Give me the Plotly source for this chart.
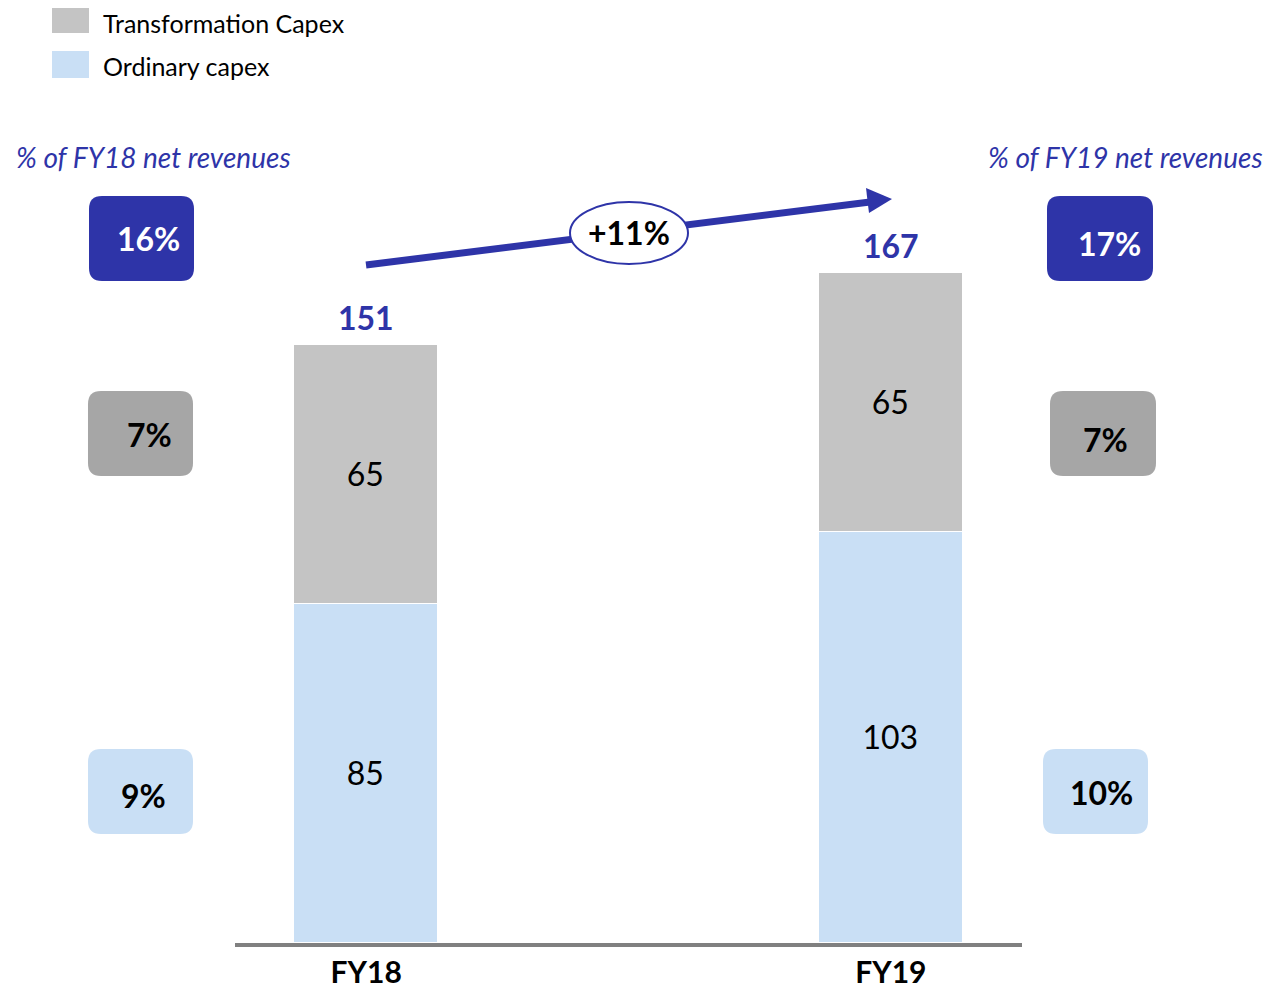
import plotly.graph_objects as go

# ---- data ----
categories = ["FY18", "FY19"]
ordinary_capex = [85, 103]
transformation_capex = [65, 65]
totals = [151, 167]
growth_label = "+11%"
pct_total = ["16%", "17%"]
pct_transformation = ["7%", "7%"]
pct_ordinary = ["9%", "10%"]
header_labels = ["% of FY18 net revenues", "% of FY19 net revenues"]

# ---- style ----
OFF = 8                      # default page margin around the figure
FW, FH = 1273 - 2 * OFF, 995 - 2 * OFF
FONT = "Lato"
DARK_BLUE = "#2E34A8"
GREY_BAR = "#C4C4C4"
LIGHT_BLUE = "#C9DFF5"
GREY_BOX = "#A6A6A6"
AXIS_GREY = "#808080"


def px(x):
    """screen pixel x -> paper fraction"""
    return (x - OFF) / FW


def py(y):
    """screen pixel y -> paper fraction"""
    return 1 - (y - OFF) / FH


xpos = list(range(len(categories)))

fig = go.Figure()
fig.add_trace(go.Bar(
    x=xpos, y=ordinary_capex, name="Ordinary capex",
    marker=dict(color=LIGHT_BLUE, line=dict(color="white", width=1.5)),
    width=0.274, text=[str(v) for v in ordinary_capex],
    textposition="inside", insidetextanchor="middle",
    textfont=dict(family=FONT, size=32, color="black"),
    hoverinfo="skip",
))
fig.add_trace(go.Bar(
    x=xpos, y=transformation_capex, name="Transformation Capex",
    marker=dict(color=GREY_BAR, line=dict(color="white", width=1.5)),
    width=0.274, text=[str(v) for v in transformation_capex],
    textposition="inside", insidetextanchor="middle",
    textfont=dict(family=FONT, size=32, color="black"),
    hoverinfo="skip",
))

shapes = []
annotations = []

# totals above bars
for i, t in enumerate(totals):
    stack_top = ordinary_capex[i] + transformation_capex[i]
    annotations.append(dict(
        x=xpos[i], y=stack_top, xref="x", yref="y", text=f"<b>{t}</b>",
        showarrow=False, xanchor="center", yanchor="bottom", yshift=6,
        font=dict(family=FONT, size=32, color=DARK_BLUE)))

# legend (custom)
shapes.append(dict(type="rect", xref="paper", yref="paper",
                   x0=px(52), x1=px(89), y0=py(8), y1=py(33),
                   fillcolor=GREY_BAR, line=dict(width=0)))
shapes.append(dict(type="rect", xref="paper", yref="paper",
                   x0=px(52), x1=px(89), y0=py(51), y1=py(78),
                   fillcolor=LIGHT_BLUE, line=dict(width=0)))
annotations.append(dict(x=px(101), y=py(23), xref="paper", yref="paper",
                        text="Transformation Capex", showarrow=False,
                        xanchor="left", yanchor="middle",
                        font=dict(family=FONT, size=25, color="black")))
annotations.append(dict(x=px(101), y=py(66), xref="paper", yref="paper",
                        text="Ordinary capex", showarrow=False,
                        xanchor="left", yanchor="middle",
                        font=dict(family=FONT, size=25, color="black")))

# headers
annotations.append(dict(x=px(14), y=py(157), xref="paper", yref="paper",
                        text=f"<i>{header_labels[0]}</i>", showarrow=False,
                        xanchor="left", yanchor="middle",
                        font=dict(family=FONT, size=28, color=DARK_BLUE)))
annotations.append(dict(x=px(1265), y=py(157), xref="paper", yref="paper",
                        text=f"<i>{header_labels[1]}</i>", showarrow=False,
                        xanchor="right", yanchor="middle",
                        font=dict(family=FONT, size=28, color=DARK_BLUE)))


def rrect(x0, y0, x1, y1, r, fill):
    pts = [
        ("M", [(x0 + r, y0)]), ("L", [(x1 - r, y0)]),
        ("Q", [(x1, y0), (x1, y0 + r)]), ("L", [(x1, y1 - r)]),
        ("Q", [(x1, y1), (x1 - r, y1)]), ("L", [(x0 + r, y1)]),
        ("Q", [(x0, y1), (x0, y1 - r)]), ("L", [(x0, y0 + r)]),
        ("Q", [(x0, y0), (x0 + r, y0)]),
    ]
    path = " ".join(
        cmd + " " + " ".join(f"{px(a):.5f},{py(b):.5f}" for a, b in p)
        for cmd, p in pts) + " Z"
    return dict(type="path", xref="paper", yref="paper", path=path,
                fillcolor=fill, line=dict(width=0), layer="below")


# percentage boxes: (x0,y0,x1,y1), fill, text, text centre, text colour
boxes = [
    ((89, 196, 194, 281), DARK_BLUE, pct_total[0], (148, 238), "white"),
    ((88, 391, 193, 476), GREY_BOX, pct_transformation[0], (149, 434), "black"),
    ((88, 749, 193, 834), LIGHT_BLUE, pct_ordinary[0], (143, 795), "black"),
    ((1047, 196, 1153, 281), DARK_BLUE, pct_total[1], (1109, 243), "white"),
    ((1050, 391, 1156, 476), GREY_BOX, pct_transformation[1], (1105, 440), "black"),
    ((1043, 749, 1148, 834), LIGHT_BLUE, pct_ordinary[1], (1101, 792), "black"),
]
for (x0, y0, x1, y1), fill, txt, (tx, ty), tc in boxes:
    shapes.append(rrect(x0, y0, x1, y1, 13, fill))
    annotations.append(dict(x=px(tx), y=py(ty), xref="paper", yref="paper",
                            text=f"<b>{txt}</b>", showarrow=False,
                            xanchor="center", yanchor="middle",
                            font=dict(family=FONT, size=32, color=tc)))

# growth arrow
shapes.append(dict(type="line", xref="paper", yref="paper",
                   x0=px(366), y0=py(265), x1=px(870), y1=py(202),
                   line=dict(color=DARK_BLUE, width=7), layer="above"))
shapes.append(dict(type="path", xref="paper", yref="paper",
                   path=(f"M {px(892):.5f},{py(199):.5f} "
                         f"L {px(866):.5f},{py(188):.5f} "
                         f"L {px(869):.5f},{py(213):.5f} Z"),
                   fillcolor=DARK_BLUE, line=dict(width=0), layer="above"))
shapes.append(dict(type="circle", xref="paper", yref="paper",
                   x0=px(570), x1=px(688), y0=py(264), y1=py(202),
                   fillcolor="white", line=dict(color=DARK_BLUE, width=2),
                   layer="above"))
annotations.append(dict(x=px(629), y=py(233), xref="paper", yref="paper",
                        text=f"<b>{growth_label}</b>", showarrow=False,
                        xanchor="center", yanchor="middle",
                        font=dict(family=FONT, size=32, color="black")))

SCALE = 3.99                    # px per unit
ymax = (943 - OFF) / SCALE

fig.update_layout(
    width=FW, height=FH, barmode="stack", bargap=0,
    margin=dict(l=0, r=0, t=0, b=0, autoexpand=False),
    plot_bgcolor="white", paper_bgcolor="white",
    showlegend=False,
    font=dict(family=FONT),
    xaxis=dict(domain=[px(235), px(1022)], range=[-0.25, 1.25],
               tickvals=xpos, ticktext=[f"<b>{c}</b>" for c in categories],
               tickfont=dict(family=FONT, size=30, color="black"),
               showline=True, linecolor=AXIS_GREY, linewidth=4,
               showgrid=False, zeroline=False, ticks="",
               ticklabelstandoff=0, automargin=False, fixedrange=True),
    yaxis=dict(domain=[py(943), 1], range=[0, ymax], visible=False,
               showgrid=False, zeroline=False, automargin=False,
               fixedrange=True),
    shapes=shapes, annotations=annotations,
)

fig.write_html("out.html", config={"displayModeBar": False})
